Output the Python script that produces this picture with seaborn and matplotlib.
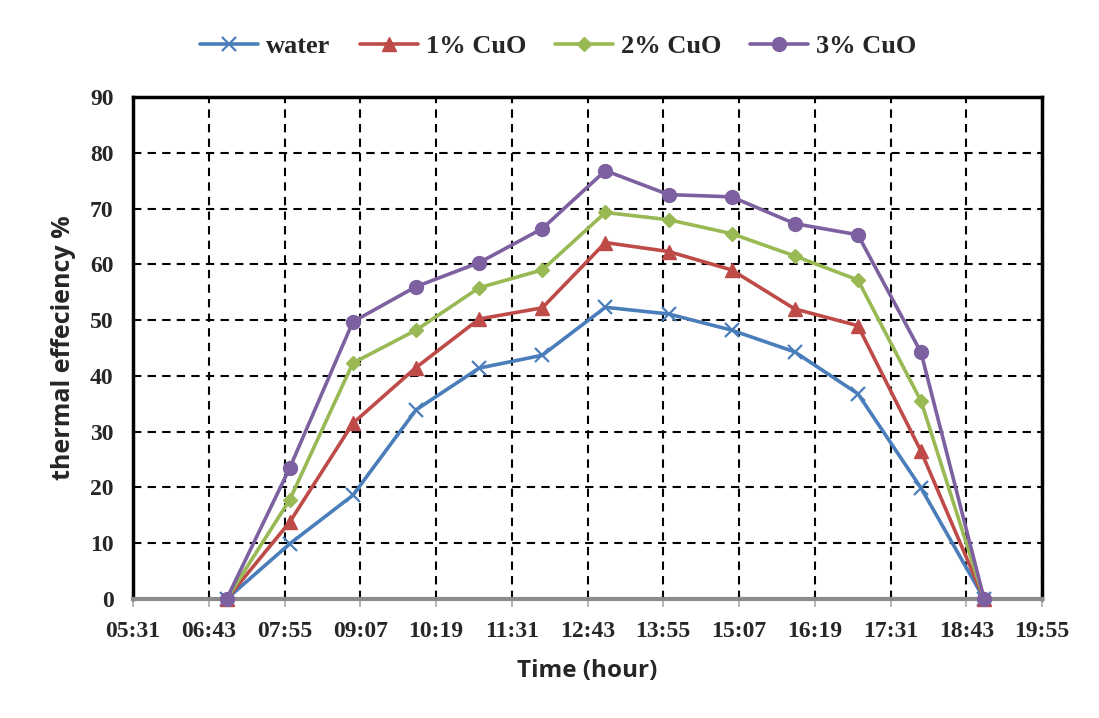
import matplotlib
matplotlib.use("Agg")
import matplotlib.pyplot as plt
import seaborn as sns
import numpy as np
import pandas as pd
from matplotlib.ticker import FixedLocator, FuncFormatter

# ---- data ----
hours = [7, 8, 9, 10, 11, 12, 13, 14, 15, 16, 17, 18, 19]
water = [0, 9.9, 18.6, 33.9, 41.4, 43.7, 52.3, 51.1, 48.2, 44.3, 36.8, 19.9, 0]
cuo1 = [0, 13.8, 31.5, 41.5, 50.2, 52.2, 63.9, 62.3, 59.0, 52.0, 49.0, 26.5, 0]
cuo2 = [0, 17.8, 42.3, 48.2, 55.8, 59.0, 69.3, 68.0, 65.5, 61.5, 57.2, 35.5, 0]
cuo3 = [0, 23.5, 49.7, 56.0, 60.3, 66.4, 76.8, 72.5, 72.1, 67.3, 65.3, 44.2, 0]
series_names = ["water", "1% CuO", "2% CuO", "3% CuO"]
x_tick_labels = ["05:31", "06:43", "07:55", "09:07", "10:19", "11:31", "12:43",
                 "13:55", "15:07", "16:19", "17:31", "18:43", "19:55"]

sns.set_theme(style="white")
plt.rcParams["font.family"] = ["Liberation Serif", "DejaVu Serif"]

fig = plt.figure(figsize=(10.99, 7.18), dpi=100)
ax = fig.add_axes([133 / 1099, 1 - 599 / 718, (1042 - 133) / 1099, (599 - 97) / 718])

def to_hours(lbl):
    h, m = lbl.split(":")
    return int(h) + int(m) / 60.0

tick_pos = [to_hours(t) for t in x_tick_labels]

colors = ["#4A7EBB", "#BE4B48", "#98B954", "#7D60A0"]
markers = ["x", "^", "D", "o"]
msizes = [10, 10, 7, 10]
mews = [1.6, 1, 1, 1]
data = [water, cuo1, cuo2, cuo3]

for name, vals, c, m, ms, mew in zip(series_names, data, colors, markers, msizes, mews):
    df = pd.DataFrame({"hour": hours, "eff": vals})
    sns.lineplot(data=df, x="hour", y="eff", ax=ax, color=c, lw=2.6, marker=m,
                 markersize=ms, markeredgecolor=c, markeredgewidth=mew,
                 label=name, clip_on=False, zorder=3)

ax.set_xlim(tick_pos[0], tick_pos[-1])
ax.set_ylim(0, 90)
ax.xaxis.set_major_locator(FixedLocator(tick_pos))
ax.xaxis.set_major_formatter(FuncFormatter(lambda v, p: x_tick_labels[int(round((v - tick_pos[0]) / 1.2))]))
ax.set_yticks(np.arange(0, 91, 10))

ax.grid(True, which="major", color="black", linestyle=(0, (4, 3)), linewidth=1.5, zorder=0)
ax.set_axisbelow(True)

for side in ["left", "top", "right"]:
    ax.spines[side].set_color("black")
    ax.spines[side].set_linewidth(2.5)
ax.spines["bottom"].set_color("#8c8c8c")
ax.spines["bottom"].set_linewidth(3)

ax.tick_params(axis="x", which="major", direction="out", length=6, width=1.2,
               color="#aaaaaa", bottom=True, pad=10)
ax.tick_params(axis="y", which="major", left=False, pad=8)
for lab in ax.get_xticklabels() + ax.get_yticklabels():
    lab.set_fontweight("bold")
    lab.set_fontsize(17)
    lab.set_family(["Liberation Serif"])

ax.set_xlabel("Time (hour)", fontsize=17.5, fontweight="bold", family=["Open Sans"], labelpad=12)
ax.set_ylabel("thermal effeciency %", fontsize=18, fontweight="bold", family=["Open Sans"], labelpad=10)

leg = ax.legend(loc="lower center", bbox_to_anchor=(0.468, 1.03), ncol=4, frameon=False,
                prop={"family": "Liberation Serif", "weight": "bold", "size": 19},
                handlelength=2.2, columnspacing=1.1, handletextpad=0.3)

fig.savefig("out.png", dpi=100)
